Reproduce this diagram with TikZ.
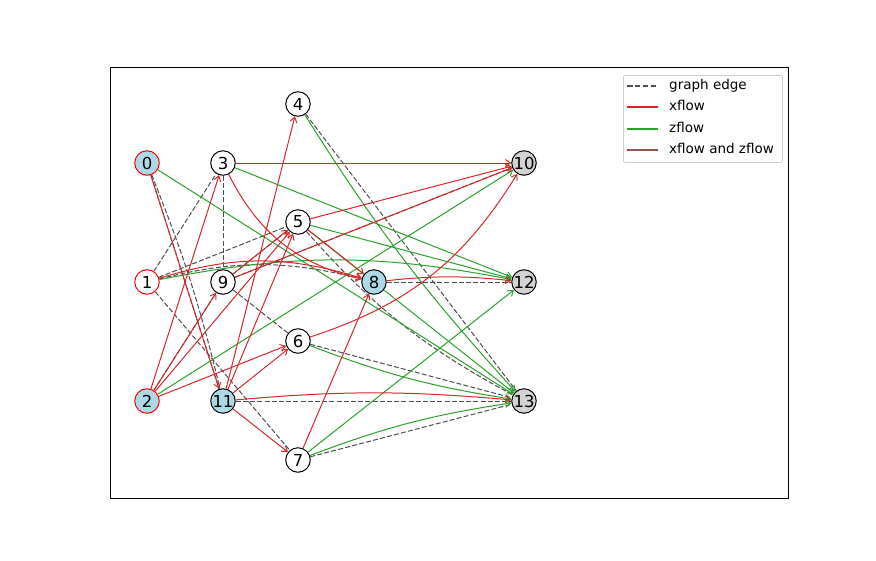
\documentclass[tikz,border=0pt]{standalone}
\usepackage{fontspec}
\setmainfont{DejaVu Sans}
\usetikzlibrary{arrows.meta,backgrounds}
\definecolor{xred}{HTML}{D62728}
\definecolor{zgreen}{HTML}{2CA02C}
\definecolor{graphc}{HTML}{4D4D4D}
\definecolor{lblue}{HTML}{ADD8E6}
\definecolor{lgray}{HTML}{D3D3D3}
\definecolor{brownc}{HTML}{8C564B}
\definecolor{legc}{HTML}{CCCCCC}
\begin{document}
\begin{tikzpicture}[x=1pt,y=-1pt,
  vn/.style={circle, draw=black, line width=1pt, minimum size=24.5pt, inner sep=0pt, font=\fontsize{16.5}{18}\selectfont},
  srcn/.style={vn, draw=red},
  ge/.style={draw=graphc, line width=1pt, dash pattern=on 5pt off 2.2pt},
  xf/.style={draw=xred, line width=1pt, -{Straight Barb[length=5pt,width=7pt]}},
  zf/.style={draw=zgreen, line width=1pt, -{Straight Barb[length=5pt,width=7pt]}},
  legtext/.style={anchor=west, inner sep=0pt, font=\fontsize{13.5}{15}\selectfont, text height=10pt, text depth=3pt}
]
\useasboundingbox (0,0) rectangle (876,560);
\draw[line width=1pt] (110,67) rectangle (788,498);

% nodes
\node[srcn, fill=lblue] (n0) at (147,163) {0};
\node[srcn, fill=white] (n1) at (147,282) {1};
\node[srcn, fill=lblue] (n2) at (147,401) {2};
\node[vn, fill=white] (n3) at (223,163) {3};
\node[vn, fill=white] (n9) at (223,282) {9};
\node[vn, fill=lblue] (n11) at (223,401) {11};
\node[vn, fill=white] (n4) at (298,104) {4};
\node[vn, fill=white] (n5) at (298,222) {5};
\node[vn, fill=white] (n6) at (298,341) {6};
\node[vn, fill=white] (n7) at (298,460) {7};
\node[vn, fill=lblue] (n8) at (374,282) {8};
\node[vn, fill=lgray] (n10) at (524,163) {10};
\node[vn, fill=lgray] (n12) at (524,282) {12};
\node[vn, fill=lgray] (n13) at (524,401) {13};

\begin{scope}[on background layer]
% graph edges
\draw[ge] (n1) -- (n3);
\draw[ge] (n0) -- (n11);
\draw[ge] (n0) to[bend left=4] (n11);
\draw[ge] (n3) -- (n9);
\draw[ge] (n1) -- (n7);
\draw[ge] (n9) -- (n6);
\draw[ge] (n9) -- (n5);
\draw[ge] (n2) -- (n9);
\draw[ge] (n1) -- (n5);
\draw[ge] (n9) -- (n10);
\draw[ge] (n1) to[bend left=14] (n8);
\draw[ge] (n8) -- (n12);
\draw[ge] (n4) -- (n13);
\draw[ge] (n5) to[bend right=10] (n13);
\draw[ge] (n6) -- (n13);
\draw[ge] (n11) -- (n13);
\draw[ge] (n7) -- (n13);
% zflow
\draw[zf] (n0) -- (n13);
\draw[zf] (n1) to[bend left=11] (n12);
\draw[zf] (n2) -- (n10);
\draw[zf] (n3) -- (n12);
\draw[zf] (n4) to[bend right=5] (n13);
\draw[zf] (n5) -- (n12);
\draw[zf] (n5) -- (n13);
\draw[zf] (n6) to[bend right=6] (n13);
\draw[zf] (n7) -- (n12);
\draw[zf] (n7) to[bend left=6] (n13);
% xflow
\draw[xf] (n0) -- (n11);
\draw[xf] (n1) to[bend left=17] (n8);
\draw[xf] (n2) -- (n3);
\draw[xf] (n2) -- (n9);
\draw[xf] (n2) -- (n5);
\draw[xf] (n2) -- (n6);
\draw[xf] (n3) -- (n10);
\draw[xf] (n3) to[bend right=25] (n8);
\draw[xf] (n5) -- (n8);
\draw[xf] (n5) -- (n10);
\draw[xf] (n6) to[bend right=20] (n10);
\draw[xf] (n7) -- (n8);
\draw[xf] (n8) to[bend left=6] (n12);
\draw[xf] (n9) -- (n5);
\draw[xf] (n9) -- (n10);
\draw[xf] (n11) -- (n4);
\draw[xf] (n11) -- (n5);
\draw[xf] (n11) -- (n6);
\draw[xf] (n11) -- (n7);
\draw[xf] (n11) to[bend left=5] (n13);
\end{scope}

% legend
\node[draw=legc, fill=white, rounded corners=2pt, minimum width=159pt, minimum height=87pt, anchor=north west, inner sep=0pt, line width=0.8pt] (legbox) at (623,75) {};
\coordinate (l1a) at (627,86);  \coordinate (l1b) at (658,86);
\coordinate (l2a) at (627,107); \coordinate (l2b) at (658,107);
\coordinate (l3a) at (627,129); \coordinate (l3b) at (658,129);
\coordinate (l4a) at (627,150); \coordinate (l4b) at (658,150);
\draw[draw=graphc, line width=1.5pt, dash pattern=on 5.5pt off 2.4pt] (l1a) -- (l1b);
\draw[draw=xred, line width=1.5pt] (l2a) -- (l2b);
\draw[draw=zgreen, line width=1.5pt] (l3a) -- (l3b);
\draw[draw=brownc, line width=1.5pt] (l4a) -- (l4b);
\node[legtext] (t1) at (669,86) {graph edge};
\node[legtext] (t2) at (669,107) {xflow};
\node[legtext] (t3) at (669,129) {zflow};
\node[legtext] (t4) at (669,150) {xflow and zflow};
\end{tikzpicture}
\end{document}
